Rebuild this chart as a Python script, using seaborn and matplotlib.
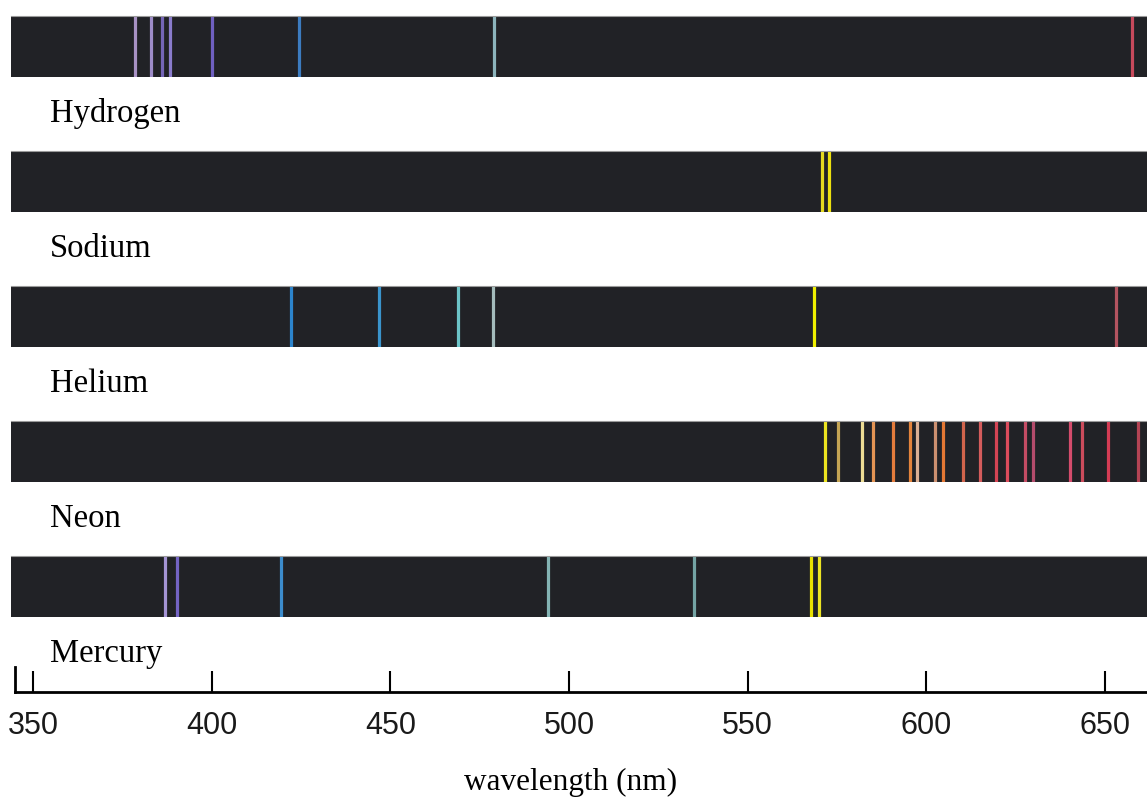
import matplotlib

matplotlib.use("Agg")

import matplotlib.pyplot as plt
import pandas as pd
import seaborn as sns


W, H = 1147, 798
PX_PER_NM = 3.573
PX_AT_350 = 33

ELEMENTS = ["Hydrogen", "Sodium", "Helium", "Neon", "Mercury"]

HYDROGEN_NM = [378.6, 383.0, 386.0, 388.3, 400.0, 424.5, 479.0, 657.6]
HYDROGEN_COLORS = ["#a892c4", "#9d8cc8", "#7565b8", "#8a7ccc", "#6f60c0",
                   "#3c7cc0", "#8cb4bc", "#c84a5c"]

SODIUM_NM = [570.8, 572.8]
SODIUM_COLORS = ["#e4d820", "#ece010"]

HELIUM_NM = [422.2, 446.8, 468.9, 478.7, 568.7, 653.1]
HELIUM_COLORS = ["#2c84cc", "#3a94cc", "#6cc4c8", "#a4bcbc", "#f0f000", "#b45460"]

NEON_NM = [571.7, 575.3, 582.0, 585.1, 590.7, 595.5, 597.4, 602.4, 604.7, 610.3,
           615.0, 619.5, 622.6, 627.6, 629.9, 640.2, 643.6, 650.9, 659.3]
NEON_COLORS = ["#ece420", "#c4a454", "#ecdc94", "#e49454", "#e47c3c", "#e4843c",
               "#dcb094", "#cc9070", "#e47834", "#d0644c", "#d45c5c", "#d44454",
               "#dc4c5c", "#c44c64", "#b44c6c", "#d44c6c", "#cc4c5c", "#d43c54",
               "#b44454"]

MERCURY_NM = [386.9, 390.3, 419.4, 494.1, 535.0, 567.7, 570.0]
MERCURY_COLORS = ["#a494d4", "#7464c4", "#3c8ccc", "#84b4b4", "#74a4a4",
                  "#e8e000", "#ece424"]

TICKS = [350, 400, 450, 500, 550, 600, 650]

BAR_COLOR = "#212226"


def px_to_nm(px):
    return 350 + (px - PX_AT_350) / PX_PER_NM


def px_rect(left, top, width, height):
    return [left / W, 1 - (top + height) / H, width / W, height / H]


def build_lines() -> pd.DataFrame:
    parts = [
        ("Hydrogen", HYDROGEN_NM, HYDROGEN_COLORS),
        ("Sodium", SODIUM_NM, SODIUM_COLORS),
        ("Helium", HELIUM_NM, HELIUM_COLORS),
        ("Neon", NEON_NM, NEON_COLORS),
        ("Mercury", MERCURY_NM, MERCURY_COLORS),
    ]
    frames = [pd.DataFrame({"element": name, "nm": nm, "color": colors}) for name, nm, colors in parts]
    return pd.concat(frames, ignore_index=True)


def main() -> None:
    sns.set_theme(style="white")
    plt.rcParams["font.family"] = ["Liberation Serif", "DejaVu Serif"]

    lines = build_lines()
    fig = plt.figure(figsize=(W / 100, H / 100), dpi=100)
    fig.patch.set_facecolor("white")

    bar_top, bar_step, bar_height = 16, 135, 61
    for i, name in enumerate(ELEMENTS):
        top = bar_top + i * bar_step
        ax = fig.add_axes(px_rect(11, top, W - 11, bar_height))
        ax.set_facecolor(BAR_COLOR)
        sub = lines[lines["element"] == name]
        sns.rugplot(data=sub, x="nm", hue="color", palette={c: c for c in sub["color"]},
                    height=1, linewidth=2.3, legend=False, expand_margins=False, ax=ax)
        ax.set_xlim(px_to_nm(11), px_to_nm(W))
        ax.set_ylim(0, 1)
        ax.set_xticks([])
        ax.set_yticks([])
        ax.set_xlabel("")
        ax.set_ylabel("")
        for side in ["left", "right", "bottom"]:
            ax.spines[side].set_visible(False)
        ax.spines["top"].set_color("#9a9a9a")
        ax.spines["top"].set_linewidth(0.8)

        fig.text(50 / W, 1 - (top + 106) / H, name, ha="left", va="baseline",
                 fontsize=23.5, color="black")

    scale = fig.add_axes(px_rect(15, 667, W - 15, 25))
    scale.set_facecolor("none")
    scale.set_xlim(px_to_nm(15), px_to_nm(W))
    scale.set_ylim(0, 1)
    scale.set_yticks([])
    scale.set_xticks(TICKS)
    scale.set_xticklabels([str(t) for t in TICKS],
                          family=["Liberation Sans Narrow", "Liberation Sans", "DejaVu Sans"],
                          fontsize=22, color="#1a1a1a")
    scale.tick_params(axis="x", direction="in", length=15, width=1.5, color="black", pad=14,
                      bottom=True)
    for side in ["top", "right"]:
        scale.spines[side].set_visible(False)
    for side in ["left", "bottom"]:
        scale.spines[side].set_color("black")
        scale.spines[side].set_linewidth(2)

    fig.text(571 / W, 1 - 790 / H, "wavelength (nm)", ha="center", va="baseline",
             fontsize=22.5, color="black")

    fig.savefig("out.png", dpi=100)
    plt.close(fig)


if __name__ == "__main__":
    main()
